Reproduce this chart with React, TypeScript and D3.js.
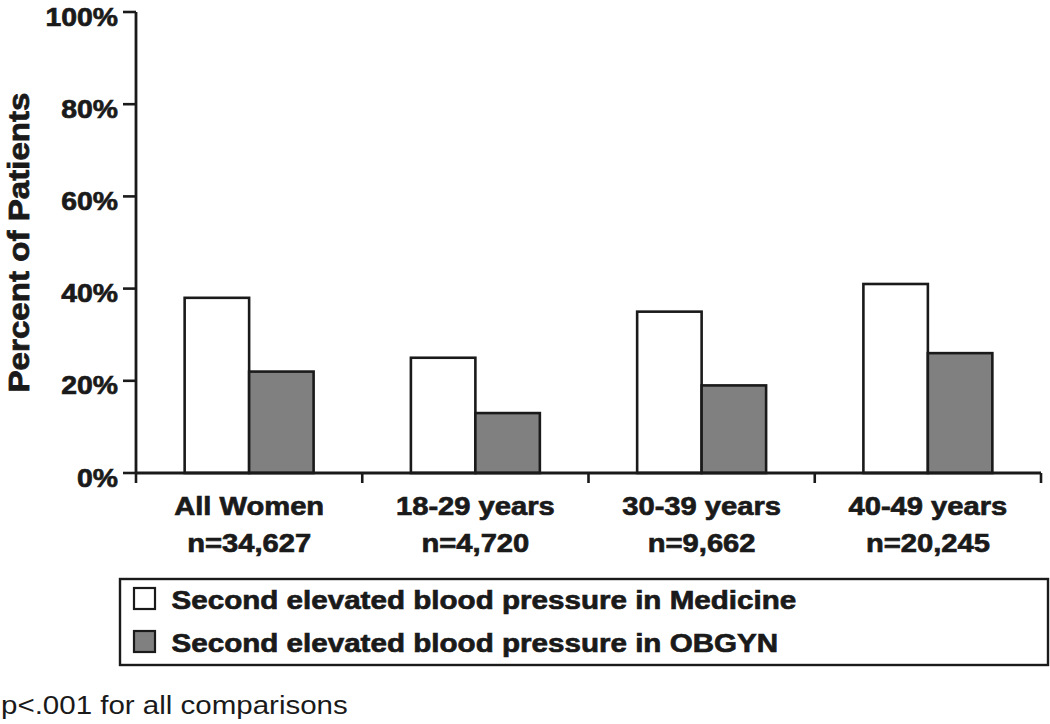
import React from "react";
import * as d3 from "d3";

const categories = ["All Women", "18-29 years", "30-39 years", "40-49 years"];
const sampleSizes = ["n=34,627", "n=4,720", "n=9,662", "n=20,245"];
const seriesNames = [
  "Second elevated blood pressure in Medicine",
  "Second elevated blood pressure in OBGYN",
];
const medicineValues = [38, 25, 35, 41];
const obgynValues = [22, 13, 19, 26];
const yTicks = [0, 20, 40, 60, 80, 100];
const seriesColors = ["#ffffff", "#808080"];
const footnote = "p<.001 for all comparisons";
const yTitle = "Percent of Patients";

const W = 1050;
const H = 724;
const FONT = "'Liberation Sans', Arial, Helvetica, sans-serif";
const INK = "#1a1a1a";
const BOLD_STROKE = 0.7;

export default function App() {
  const x0 = 136;
  const x1 = 1041;
  const yTop = 12;
  const yBot = 473;

  const x = d3.scaleBand<string>().domain(categories).range([x0, x1]).padding(0);
  const bw = x.bandwidth();
  const xInner = d3
    .scaleBand<string>()
    .domain(seriesNames)
    .range([bw * 0.215, bw * 0.785])
    .padding(0);
  const y = d3.scaleLinear().domain([0, 100]).range([yBot, yTop]);

  const seriesValues = [medicineValues, obgynValues];
  const boundaries = [x0, ...categories.map((c) => (x(c) as number) + bw)];

  const boldProps = {
    fontWeight: "bold" as const,
    fill: INK,
    stroke: INK,
    strokeWidth: BOLD_STROKE,
  };

  return (
    <svg
      width={W}
      height={H}
      style={{ position: "absolute", left: 0, top: 0, background: "#fff" }}
      fontFamily={FONT}
    >
      <rect x={0} y={0} width={W} height={H} fill="#fff" />

      {/* bars */}
      {categories.map((c, ci) => (
        <g key={c} transform={`translate(${x(c)},0)`}>
          {seriesNames.map((s, si) => {
            const v = seriesValues[si][ci];
            return (
              <rect
                key={s}
                x={xInner(s)}
                y={y(v)}
                width={xInner.bandwidth()}
                height={y(0) - y(v)}
                fill={seriesColors[si]}
                stroke={INK}
                strokeWidth={2.6}
              />
            );
          })}
        </g>
      ))}

      {/* y axis */}
      <line x1={x0} x2={x0} y1={y(100)} y2={y(0)} stroke={INK} strokeWidth={2.8} />
      {yTicks.map((t) => (
        <g key={t}>
          <line x1={x0 - 13} x2={x0} y1={y(t)} y2={y(t)} stroke={INK} strokeWidth={2.6} />
          <g transform={`translate(118,${y(t) + 13.5}) scale(1.07,1)`}>
            <text x={0} y={0} textAnchor="end" fontSize={26.5} {...boldProps}>
              {`${t}%`}
            </text>
          </g>
        </g>
      ))}

      {/* x axis */}
      <line x1={x0} x2={x1} y1={y(0)} y2={y(0)} stroke={INK} strokeWidth={2.8} />
      {boundaries.map((b, i) => (
        <line key={i} x1={b} x2={b} y1={y(0)} y2={y(0) + 10} stroke={INK} strokeWidth={2.6} />
      ))}
      {categories.map((c, ci) => {
        const cx = (x(c) as number) + bw / 2;
        return (
          <g key={c}>
            <g transform={`translate(${cx},515) scale(1.1,1)`}>
              <text x={0} y={0} textAnchor="middle" fontSize={26.5} {...boldProps}>
                {c}
              </text>
            </g>
            <g transform={`translate(${cx},552) scale(1.1,1)`}>
              <text x={0} y={0} textAnchor="middle" fontSize={26.5} {...boldProps}>
                {sampleSizes[ci]}
              </text>
            </g>
          </g>
        );
      })}

      {/* y title */}
      <g transform={`translate(29,242.5) rotate(-90) scale(1.25,1.1)`}>
        <text x={0} y={0} textAnchor="middle" fontSize={26.5} {...boldProps}>
          {yTitle}
        </text>
      </g>

      {/* legend */}
      <rect x={120} y={579} width={928} height={86} fill="#fff" stroke={INK} strokeWidth={2.4} />
      {seriesNames.map((s, si) => (
        <g key={s} transform={`translate(0,${si * 43})`}>
          <rect
            x={134}
            y={588}
            width={21}
            height={21}
            fill={seriesColors[si]}
            stroke={INK}
            strokeWidth={2.2}
          />
          <g transform={`translate(171.5,609) scale(1.117,1)`}>
            <text x={0} y={0} fontSize={26.5} {...boldProps}>
              {s}
            </text>
          </g>
        </g>
      ))}

      {/* footnote */}
      <g transform={`translate(1,714) scale(1.135,1)`}>
        <text x={0} y={0} fontSize={26} fill={INK}>
          {footnote}
        </text>
      </g>
    </svg>
  );
}
